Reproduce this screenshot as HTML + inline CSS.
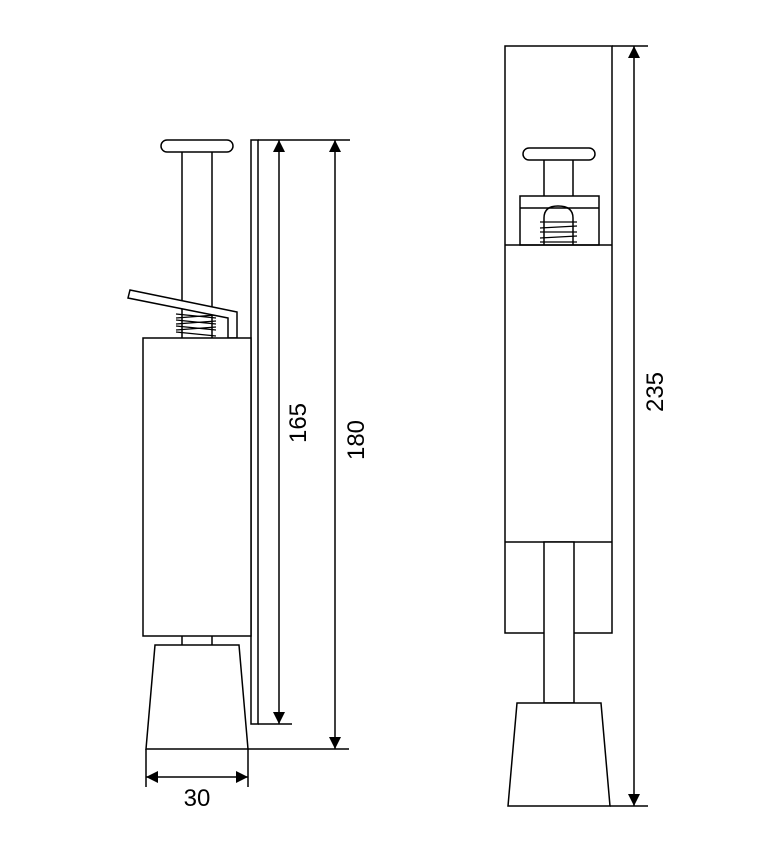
<!DOCTYPE html>
<html><head><meta charset="utf-8"><style>html,body{margin:0;padding:0;background:#fff}svg{display:block}</style></head>
<body>
<svg width="761" height="847" viewBox="0 0 761 847" xmlns="http://www.w3.org/2000/svg">
<defs>
<marker id="a" viewBox="0 0 10 10" refX="10" refY="5" markerWidth="12" markerHeight="16" markerUnits="userSpaceOnUse" orient="auto-start-reverse"><path d="M0,0 L10,5 L0,10 z" fill="#000"/></marker>
</defs>
<g fill="none" stroke="#000" stroke-width="1.5">
<rect x="161" y="140" width="72" height="12" rx="6"/>
<line x1="182" y1="152" x2="182" y2="338"/>
<line x1="212" y1="152" x2="212" y2="338"/>
<path d="M176,314 L216,318 M176,320 L216,324 M176,326 L216,330 M176,332 L216,336 M176,318 L216,315 M176,324 L216,321 M176,330 L216,327" stroke-width="1.2"/>
<polygon points="130,290 237,312 237,338 228,338 228,318 128,298" fill="#fff"/>
<rect x="251" y="140" width="7" height="584"/>
<rect x="143" y="338" width="108" height="298" fill="#fff"/>
<line x1="182" y1="636" x2="182" y2="645"/>
<line x1="212" y1="636" x2="212" y2="645"/>
<polygon points="155,645 239,645 248,749 146,749"/>
<line x1="258" y1="140" x2="350" y2="140"/>
<line x1="258" y1="724" x2="292" y2="724"/>
<line x1="248" y1="749" x2="349" y2="749"/>
<line x1="279" y1="140" x2="279" y2="724" marker-start="url(#a)" marker-end="url(#a)"/>
<line x1="335" y1="140" x2="335" y2="749" marker-start="url(#a)" marker-end="url(#a)"/>
<line x1="146" y1="749" x2="146" y2="787"/>
<line x1="248" y1="749" x2="248" y2="787"/>
<line x1="146" y1="777" x2="248" y2="777" marker-start="url(#a)" marker-end="url(#a)"/>
<rect x="505" y="46" width="107" height="587"/>
<line x1="505" y1="245" x2="612" y2="245"/>
<line x1="505" y1="542" x2="612" y2="542"/>
<rect x="523" y="148" width="72" height="12" rx="6"/>
<line x1="544" y1="160" x2="544" y2="196"/>
<line x1="573" y1="160" x2="573" y2="196"/>
<rect x="520" y="196" width="79" height="49"/>
<line x1="520" y1="208" x2="599" y2="208"/>
<path d="M544,245 L544,218 Q544,206 558,206 Q573,206 573,218 L573,245"/>
<path d="M540,222 L577,222 M540,228 L577,226 M540,232 L577,232 M540,238 L577,236 M540,242 L577,242" stroke-width="1.2"/>
<rect x="544" y="542" width="30" height="161" fill="#fff"/>
<polygon points="517,703 601,703 610,806 508,806" fill="#fff"/>
<line x1="612" y1="46" x2="648" y2="46"/>
<line x1="610" y1="806" x2="648" y2="806"/>
<line x1="634" y1="46" x2="634" y2="806" marker-start="url(#a)" marker-end="url(#a)"/>
</g>
<g font-family="Liberation Sans, sans-serif" font-size="24" fill="#000" text-anchor="middle">
<text x="197" y="806">30</text>
<text transform="translate(306,423) rotate(-90)">165</text>
<text transform="translate(364,440) rotate(-90)">180</text>
<text transform="translate(663,392) rotate(-90)">235</text>
</g>
</svg>
</body></html>
